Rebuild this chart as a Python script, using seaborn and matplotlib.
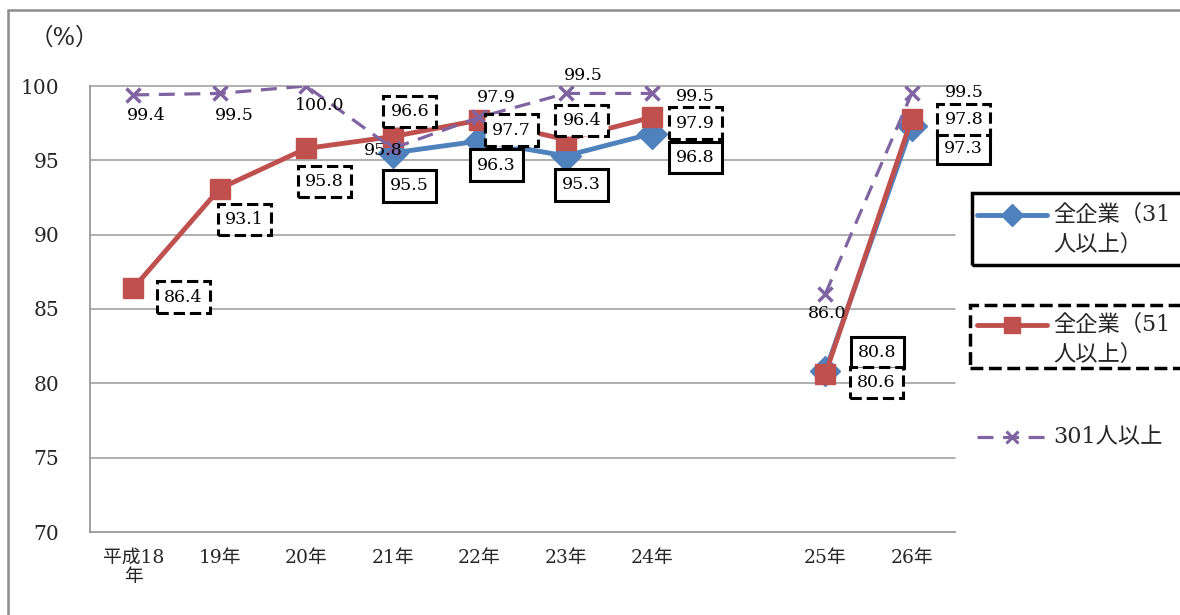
import numpy as np
import pandas as pd
import matplotlib
matplotlib.use("Agg")
import matplotlib.pyplot as plt
import seaborn as sns
from matplotlib.lines import Line2D
from matplotlib.patches import Rectangle

nan = np.nan
categories = ["平成18\n年", "19年", "20年", "21年", "22年", "23年", "24年", "", "25年", "26年"]
segments = [0, 0, 0, 0, 0, 0, 0, 0, 1, 1]
all31 = [nan, nan, nan, 95.5, 96.3, 95.3, 96.8, nan, 80.8, 97.3]
all51 = [86.4, 93.1, 95.8, 96.6, 97.7, 96.4, 97.9, nan, 80.6, 97.8]
over301 = [99.4, 99.5, 100.0, 95.8, 97.9, 99.5, 99.5, nan, 86.0, 99.5]
series_names = ["全企業（31人以上）", "全企業（51人以上）", "301人以上"]
yticks = [70, 75, 80, 85, 90, 95, 100]

# label offsets in pixels (dx, dy downward)
off31 = [None, None, None, (17, 33), (17, 24), (16, 29), (43, 24), None, (52, -19), (52, 22)]
off51 = [(50, 9), (25, 31), (18, 33), (17, -25), (32, 10), (16, -19), (43, 6), None, (51, 8), (52, 1)]
off301 = [(13, 21), (15, 22), (13, 19), (-10, 2), (17, -20), (18, -18), (43, 3), None, (2, 19), (53, -1)]

BLUE = "#4F81BD"
RED = "#C0504D"
PURPLE = "#8064A2"

sns.set_theme(style="white")
plt.rcParams["font.family"] = ["DejaVu Serif", "Noto Sans CJK JP", "DejaVu Sans"]

W, H = 1180, 615
fig = plt.figure(figsize=(W / 100, H / 100), dpi=100)
ax = fig.add_axes([90 / W, 1 - 532 / H, (955 - 90) / W, (532 - 86) / H])

pos = list(range(len(categories)))

specs = [
    (all31, BLUE, "D", 15, 3.5, "-", 3, off31, "solid"),
    (all51, RED, "s", 15, 3.5, "-", 4, off51, "dashed"),
    (over301, PURPLE, "x", 10, 2.3, (0, (5, 3)), 5, off301, None),
]

for vals, color, marker, ms, lw, ls, z, offs, box in specs:
    df = pd.DataFrame({"pos": pos, "val": vals, "seg": segments}).dropna()
    sns.lineplot(data=df, x="pos", y="val", units="seg", estimator=None,
                 color=color, marker=marker, markersize=ms, lw=lw, linestyle=ls,
                 markeredgecolor=color, markeredgewidth=2.5 if marker == "x" else 1,
                 ax=ax, zorder=z, legend=False)
    for p, v, o in zip(pos, vals, offs):
        if o is None or np.isnan(v):
            continue
        kw = {}
        if box is not None:
            kw["bbox"] = dict(boxstyle="square,pad=0.42", fc="white", ec="black",
                              lw=2.2, ls="--" if box == "dashed" else "-")
        ax.annotate(f"{v:.1f}", xy=(p, v), xytext=(o[0], -o[1]),
                    textcoords="offset pixels", ha="center", va="center",
                    fontsize=12.5, color="black", zorder=10, **kw)

ax.set_xlim(-0.5, len(categories) - 0.5)
ax.set_ylim(70, 100)
ax.set_yticks(yticks)
ax.set_yticklabels([str(t) for t in yticks], fontsize=14.5)
ax.set_xticks(pos)
ax.set_xticklabels(categories, fontsize=13.5, linespacing=1.1)
ax.tick_params(axis="both", length=0)
ax.tick_params(axis="y", pad=22)
ax.tick_params(axis="x", pad=12)
ax.set_xlabel("")
ax.set_ylabel("")
for y in yticks[1:]:
    ax.axhline(y, color="#9a9a9a", lw=1.1, zorder=0, clip_on=False)
for s in ["top", "right"]:
    ax.spines[s].set_visible(False)
for s in ["left", "bottom"]:
    ax.spines[s].set_color("#9a9a9a")
    ax.spines[s].set_linewidth(1.3)

fig.text(30 / W, 1 - 38 / H, "（%）", fontsize=17, va="center", ha="left")

# outer chart border
fig.patches.append(Rectangle((8 / W, -0.1), 1.2, 1 - 10 / H + 0.1, transform=fig.transFigure,
                             fill=False, ec="#8c8c8c", lw=1.8, zorder=0))

# manual legend
def fy(y):
    return 1 - y / H

def fx(x):
    return x / W

fig.patches.append(Rectangle((fx(972), fy(265)), 0.2, 72 / H, transform=fig.transFigure,
                             fill=False, ec="black", lw=2.5, zorder=5))
fig.patches.append(Rectangle((fx(970), fy(368)), 0.2, 63 / H, transform=fig.transFigure,
                             fill=False, ec="black", lw=2.5, ls="--", zorder=5))

leg = [
    (215, 245, BLUE, "D", 11, 3.5, "-", "全企業（31", "人以上）"),
    (325, 355, RED, "s", 11, 3.5, "-", "全企業（51", "人以上）"),
    (437, None, PURPLE, "x", 9, 2.3, (0, (5, 3)), "301人以上", None),
]
for y1, y2, color, marker, ms, lw, ls, t1, t2 in leg:
    ln = Line2D([fx(977), fx(1012), fx(1047)], [fy(y1)] * 3, transform=fig.transFigure,
                color=color, lw=lw, ls=ls, marker=marker, markersize=ms, markevery=[1],
                markeredgecolor=color, markeredgewidth=2.2 if marker == "x" else 1)
    fig.lines.append(ln)
    fig.text(fx(1053), fy(y1), t1, fontsize=16, va="center", ha="left")
    if t2:
        fig.text(fx(1053), fy(y2), t2, fontsize=16, va="center", ha="left")

fig.savefig("out.png", dpi=100)
